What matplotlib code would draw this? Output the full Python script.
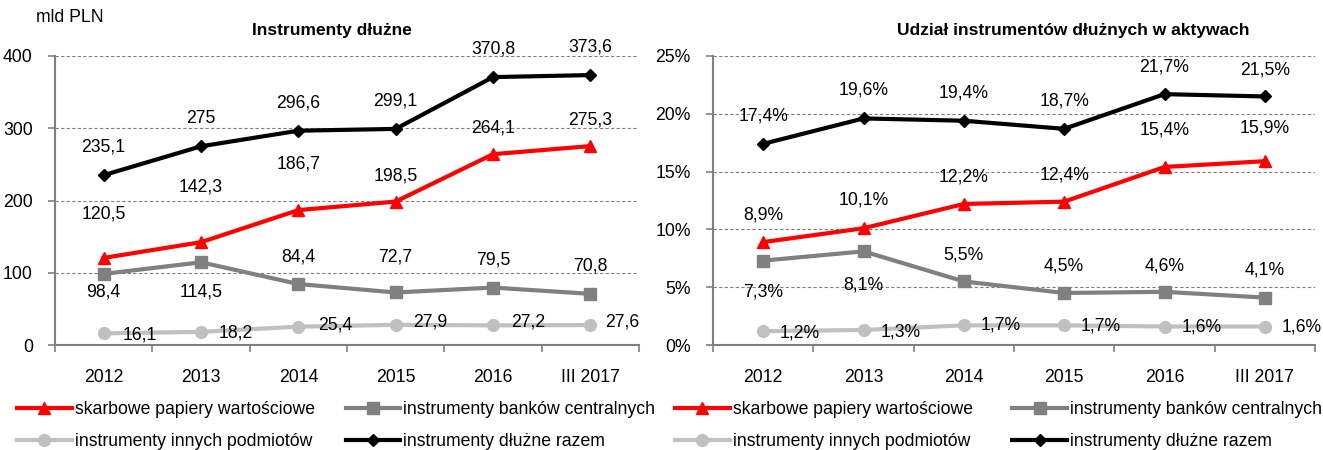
import matplotlib
matplotlib.use('Agg')
import matplotlib.pyplot as plt
from matplotlib.ticker import FixedLocator, FuncFormatter

plt.rcParams['font.family'] = ['Liberation Sans Narrow', 'Liberation Sans', 'DejaVu Sans']

# dane
lata = ['2012', '2013', '2014', '2015', '2016', 'III 2017']

# mld PLN
skarbowe = [120.5, 142.3, 186.7, 198.5, 264.1, 275.3]
banki_centralne = [98.4, 114.5, 84.4, 72.7, 79.5, 70.8]
inne_podmioty = [16.1, 18.2, 25.4, 27.9, 27.2, 27.6]
razem = [235.1, 275.0, 296.6, 299.1, 370.8, 373.6]

# udział w aktywach (%)
skarbowe_udz = [8.9, 10.1, 12.2, 12.4, 15.4, 15.9]
banki_udz = [7.3, 8.1, 5.5, 4.5, 4.6, 4.1]
inne_udz = [1.2, 1.3, 1.7, 1.7, 1.6, 1.6]
razem_udz = [17.4, 19.6, 19.4, 18.7, 21.7, 21.5]

nazwy = ['skarbowe papiery wartościowe', 'instrumenty banków centralnych',
         'instrumenty innych podmiotów', 'instrumenty dłużne razem']

# styl serii: kolor, marker, rozmiar
style = [('#FF0000', '^', 9), ('#808080', 's', 8), ('#C0C0C0', 'o', 8.5), ('#000000', 'D', 6)]

# przesunięcia etykiet (piksele: dx, dy)
off_lewy = [
    [(0, 44), (0, 55), (0, 46), (0, 26), (0, 26), (0, 26)],
    [(0, -18), (0, -30), (0, 27), (0, 35), (0, 28), (0, 28)],
    [(36, -2), (35, -1), (37, 2), (35, 3), (35, 3), (32, 3)],
    [(0, 28)] * 6,
]
off_prawy = [
    [(0, 27), (0, 28), (0, 27), (0, 27), (0, 37), (0, 33)],
    [(0, -31), (0, -34), (0, 26), (0, 27), (0, 26), (0, 28)],
    [(37, -2), (37, -2), (37, 0), (37, -1), (37, 0), (37, 0)],
    [(0, 28), (0, 28), (0, 28), (0, 28), (0, 27), (0, 26)],
]

FS = 12.7
szary = '#808080'


def fmt(v, proc):
    if proc:
        return ('%.1f' % v).replace('.', ',') + '%'
    if v == int(v):
        return '%d' % v
    return ('%.1f' % v).replace('.', ',')


def rysuj(ax, serie, offsety, ymax, krok, proc):
    x = list(range(len(lata)))
    linie = []
    for dane, (kol, mark, ms), off in zip(serie, style, offsety):
        l, = ax.plot(x, dane, color=kol, lw=3, marker=mark, markersize=ms,
                     markerfacecolor=kol, markeredgecolor=kol, zorder=3)
        linie.append(l)
        for xi, v, (dx, dy) in zip(x, dane, off):
            ax.annotate(fmt(v, proc), (xi, v), xytext=(dx, dy), textcoords='offset pixels',
                        ha='center', va='center', fontsize=FS, zorder=4)
    ax.set_xlim(-0.5, len(lata) - 0.5)
    ax.set_ylim(0, ymax)
    ax.set_xticks(x)
    ax.set_xticklabels(lata, fontsize=FS)
    ax.xaxis.set_minor_locator(FixedLocator([i - 0.5 for i in range(len(lata) + 1)]))
    ax.tick_params(axis='x', which='major', length=0, pad=17)
    ax.tick_params(axis='x', which='minor', length=5, width=1.2, color=szary, direction='out')
    yt = [i * krok for i in range(int(ymax / krok) + 1)]
    ax.set_yticks(yt)
    if proc:
        ax.yaxis.set_major_formatter(FuncFormatter(lambda v, p: '%d%%' % v))
    ax.tick_params(axis='y', length=5, width=1.2, color=szary, labelsize=FS, pad=11)
    for s in ['top', 'right']:
        ax.spines[s].set_visible(False)
    for s in ['left', 'bottom']:
        ax.spines[s].set_color(szary)
        ax.spines[s].set_linewidth(1.5)
    for y in yt[1:]:
        ax.axhline(y, color=szary, lw=0.8, ls=(0, (3, 2)), zorder=1)
    return linie


fig = plt.figure(figsize=(13.23, 4.5), dpi=100)
ax1 = fig.add_axes([55 / 1323, 1 - 345 / 450, 584 / 1323, 289 / 450])
ax2 = fig.add_axes([713 / 1323, 1 - 345 / 450, 602 / 1323, 289 / 450])

linie1 = rysuj(ax1, [skarbowe, banki_centralne, inne_podmioty, razem], off_lewy, 400, 100, False)
linie2 = rysuj(ax2, [skarbowe_udz, banki_udz, inne_udz, razem_udz], off_prawy, 25, 5, True)

fig.text(332 / 1323, 1 - 30 / 450, 'Instrumenty dłużne', ha='center', va='center',
         fontsize=12.5, fontweight='bold')
fig.text(1073 / 1323, 1 - 30 / 450, 'Udział instrumentów dłużnych w aktywach', ha='center',
         va='center', fontsize=12.5, fontweight='bold')
fig.text(36 / 1323, 1 - 18 / 450, 'mld PLN', ha='left', va='center', fontsize=FS)

# kolejność wierszami: matplotlib wypełnia legendę kolumnami
kol = [0, 2, 1, 3]
for linie, x0, cs in [(linie1, 17 / 1323, 1.75), (linie2, 675 / 1323, 2.25)]:
    fig.legend([linie[i] for i in kol], [nazwy[i] for i in kol], ncol=2, loc='upper left',
               bbox_to_anchor=(x0, 1 - 401 / 450), frameon=False, fontsize=FS,
               handlelength=3.1, handletextpad=0.17, labelspacing=0.86, columnspacing=cs,
               borderaxespad=0, borderpad=0)

fig.savefig('out.png', dpi=100)
